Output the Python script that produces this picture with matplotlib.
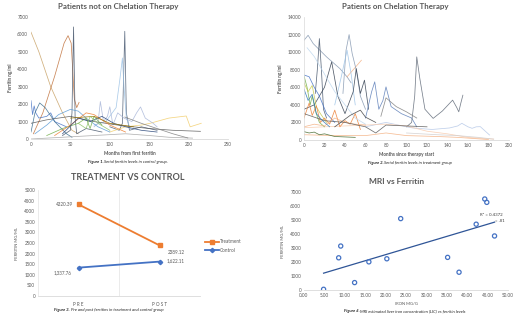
import numpy as np
import matplotlib.pyplot as plt

plt.rcParams['font.family'] = ['Lato', 'DejaVu Sans']

W, H = 520, 316

# ---- panel 1: patients not on chelation (x months, y ferritin) ----
ctrl_lines = [
    ('#C8A165', [0, 10, 25, 40, 52, 60], [6130, 5000, 3000, 1500, 500, 300]),
    ('#C0703A', [3, 15, 30, 42, 47, 51, 55, 58, 61], [300, 1500, 3600, 5500, 5930, 5500, 2300, 1800, 2100]),
    ('#44546A', [40, 50, 52, 54, 56, 58, 70, 90], [200, 500, 1500, 6430, 1200, 300, 600, 400]),
    ('#4A5B73', [100, 112, 116, 119, 121, 125, 140, 160], [700, 500, 900, 6180, 1500, 500, 700, 500]),
    ('#9DC3E6', [80, 95, 108, 113, 116, 118, 121, 126], [800, 1000, 1800, 3500, 4650, 3000, 1200, 600]),
    ('#F2CE6B', [100, 120, 140, 151, 175, 197, 202, 216], [400, 700, 800, 900, 1200, 1320, 700, 900]),
    ('#A9B7D9', [80, 85, 88, 92, 97, 100, 104, 110, 118, 128, 134, 139, 145, 155, 160],
     [700, 900, 2150, 1000, 1300, 1850, 800, 1500, 1200, 1000, 1500, 1840, 1200, 900, 700]),
    ('#4472C4', [0, 2, 4, 6, 10, 20, 25, 30, 45], [2200, 1400, 1900, 1500, 1200, 1300, 1500, 1000, 700]),
    ('#3B6E8F', [0, 5, 11, 18, 30, 45, 52], [400, 1500, 2070, 1800, 1000, 300, 100]),
    ('#5B9BD5', [5, 20, 35, 50, 60, 70, 85, 100], [300, 800, 1400, 1700, 1600, 1200, 700, 400]),
    ('#595959', [0, 20, 50, 80, 110, 150, 180, 215], [900, 1100, 1300, 1000, 800, 600, 500, 440]),
    ('#A5A5A5', [0, 40, 80, 120, 150, 175, 205], [0, 100, 200, 300, 200, 100, 50]),
    ('#70AD47', [20, 40, 60, 70, 75, 80, 90], [200, 600, 900, 1200, 600, 1300, 800]),
    ('#ED7D31', [30, 50, 70, 80, 100, 120], [200, 800, 1500, 1400, 800, 400]),
    ('#264478', [40, 60, 75, 90, 105, 120, 140, 160], [300, 1200, 1000, 1300, 900, 700, 500, 400]),
    ('#997300', [50, 80, 100, 130], [1200, 1300, 900, 700]),
    ('#7F7F7F', [119, 140, 160, 180, 199], [1260, 900, 600, 300, 60]),
    ('#8CC168', [60, 70, 75, 85, 100], [900, 600, 1300, 900, 500]),
]

# ---- panel 2: patients on chelation ----
treat_lines = [
    ('#8497B0', [0, 4, 9, 22, 35, 42, 46], [11350, 11920, 10970, 9460, 8130, 7190, 6500]),
    ('#F4B183', [42, 49, 56], [7190, 8130, 9080]),
    ('#44546A', [11, 13, 15, 17, 19, 22], [5300, 8000, 11540, 8000, 3500, 2500]),
    ('#8497B0', [38, 41, 44, 47, 51, 55, 60], [5300, 10200, 12000, 9840, 7950, 5000, 3500]),
    ('#9DC3E6', [30, 36, 42, 46, 50], [4000, 7000, 10220, 7500, 4000]),
    ('#333F50', [0, 10, 20, 27, 33, 40, 48, 51, 55, 59, 63], [3500, 4000, 6000, 8890, 5000, 3000, 5500, 8130, 5300, 6810, 3500]),
    ('#5B7DB8', [60, 66, 69, 73, 77, 80, 85, 95, 105, 110], [2500, 5500, 6620, 3500, 4500, 6050, 3800, 3000, 2500, 1500]),
    ('#606A78', [100, 105, 108, 110, 113, 118, 126, 135, 145, 149, 151, 153, 155],
     [1500, 2000, 5000, 9460, 7000, 3500, 2460, 3300, 4540, 3700, 3210, 4200, 5100]),
    ('#B4C7E7', [60, 80, 100, 106, 125, 142, 150, 154, 160, 164, 168, 172, 181],
     [1500, 2000, 1500, 1370, 1200, 1370, 1600, 1900, 1500, 1330, 1500, 1520, 570]),
    ('#F8CBAD', [0, 20, 40, 60, 80, 100, 120, 140, 160, 185], [1400, 1500, 1600, 1700, 1800, 1600, 1000, 700, 300, 100]),
    ('#F4B183', [0, 30, 60, 80, 100, 130, 150, 180], [600, 500, 500, 800, 500, 400, 300, 50]),
    ('#43682B', [0, 5, 10, 15, 20, 30, 40, 50], [950, 800, 900, 600, 700, 400, 350, 300]),
    ('#70AD47', [0, 3, 6, 8, 12, 15, 20], [7300, 6000, 4000, 5000, 3000, 2000, 1500]),
    ('#C5C84A', [0, 4, 8, 12, 16, 22], [6500, 5500, 6200, 3800, 3000, 2000]),
    ('#4472C4', [0, 5, 10, 15, 22, 30], [7400, 7200, 6000, 5000, 3000, 2000]),
    ('#ED7D31', [0, 5, 8, 12, 16, 20, 25, 30, 35, 40, 45, 50, 55],
     [2500, 4200, 2800, 3900, 2000, 2500, 1800, 3400, 1500, 2200, 1800, 3000, 1200]),
    ('#F4B183', [0, 10, 20, 30, 40, 50, 60], [1500, 1800, 1600, 2500, 2000, 1800, 1700]),
    ('#BDD7EE', [3, 10, 20, 30, 40, 50, 60], [10500, 9500, 7500, 5500, 4000, 2500, 1800]),
    ('#595959', [0, 20, 40, 60, 70, 80, 100, 120], [3000, 2200, 2000, 1500, 800, 1700, 1600, 1500]),
    ('#3F3F3F', [30, 45, 55, 60, 70], [1500, 2800, 3400, 2600, 2000]),
    ('#7F7F7F', [75, 80, 90, 100, 110], [2700, 4800, 3800, 3200, 2500]),
    ('#D0CECE', [100, 130, 150, 170, 185], [800, 600, 500, 300, 100]),
    ('#2E75B6', [0, 4, 8, 12, 18, 25], [5800, 4500, 5200, 3000, 2200, 1500]),
]

# ---- panel 3: treatment vs control ----
periods = ['PRE', 'POST']
treatment = [4320.39, 2389.12]
control = [1337.76, 1622.11]
treatment_labels = ['4320.39', '2389.12']
control_labels = ['1,337.76', '1,622.11']

# ---- panel 4: MRI vs ferritin ----
iron = [4.8, 8.5, 9.0, 12.4, 15.9, 20.3, 23.7, 35.2, 38.0, 42.2, 44.3, 44.8, 46.7]
ferritin = [50, 2300, 3140, 530, 2010, 2230, 5100, 2330, 1270, 4700, 6500, 6260, 3860]
r2_text = 'R² = 0.4372'

TICK = '#595959'


def box(left, top, right, bottom):
    return [left / W, 1 - bottom / H, (right - left) / W, (bottom - top) / H]


def excel_axes(ax, left_spine=False):
    for s in ['top', 'right', 'left']:
        ax.spines[s].set_visible(False)
    if left_spine:
        ax.spines['left'].set_visible(True)
        ax.spines['left'].set_color('#D9D9D9')
        ax.spines['left'].set_linewidth(0.5)
    ax.spines['bottom'].set_color('#D9D9D9')
    ax.spines['bottom'].set_linewidth(0.6)
    ax.tick_params(length=0, labelsize=3.3, colors=TICK, pad=2)


def caption(fig, xsplit, y, prefix, rest):
    fig.text(xsplit / W, 1 - y / H, prefix + ' ', ha='right', va='center',
             fontsize=3.1, fontstyle='italic', fontweight='bold', color='#262626')
    fig.text(xsplit / W, 1 - y / H, rest, ha='left', va='center',
             fontsize=3.1, fontstyle='italic', color='#262626')


fig = plt.figure(figsize=(W / 100, H / 100), dpi=100)

# panel 1
ax1 = fig.add_axes(box(31, 17, 228, 139))
for c, xs, ys in ctrl_lines:
    ax1.plot(xs, ys, color=c, lw=0.55, alpha=0.85)
ax1.set_xlim(0, 250)
ax1.set_ylim(0, 7000)
ax1.set_xticks(range(0, 251, 50))
ax1.set_yticks(range(0, 7001, 1000))
excel_axes(ax1)
ax1.set_xlabel('Months from first ferritin', fontsize=3.3, color=TICK, fontweight='bold', labelpad=3)
ax1.set_ylabel('Ferritin ng/ml', fontsize=3.3, color=TICK, fontweight='bold', labelpad=3)
fig.text(118 / W, 1 - 6 / H, 'Patients not on Chelation Therapy', ha='center', va='center',
         fontsize=5.7, fontweight='bold', color='#595959')
caption(fig, 104, 162, 'Figure 1.', 'Serial ferritin levels in control group.')

# panel 2
ax2 = fig.add_axes(box(304, 17, 509, 140))
for c, xs, ys in treat_lines:
    ax2.plot(xs, ys, color=c, lw=0.55, alpha=0.85)
ax2.set_xlim(0, 200)
ax2.set_ylim(0, 14000)
ax2.set_xticks(range(0, 201, 20))
ax2.set_yticks(range(0, 14001, 2000))
excel_axes(ax2, left_spine=True)
ax2.set_xlabel('Months since therapy start', fontsize=3.3, color=TICK, fontweight='bold', labelpad=3)
ax2.set_ylabel('Ferritin ng/ml', fontsize=3.3, color=TICK, fontweight='bold', labelpad=3)
fig.text(395 / W, 1 - 6 / H, 'Patients on Chelation Therapy', ha='center', va='center',
         fontsize=5.7, fontweight='bold', color='#595959')
caption(fig, 384, 163, 'Figure 2.', 'Serial ferritin levels in treatment group')

# panel 3
ax3 = fig.add_axes(box(38, 190, 200, 296))
xpos = np.arange(len(periods))
l_t, = ax3.plot(xpos, treatment, color='#ED7D31', lw=1.3, marker='s', ms=2.8, label='Treatment')
l_c, = ax3.plot(xpos, control, color='#4472C4', lw=1.3, marker='D', ms=2.2, label='Control')
ax3.set_xlim(-0.5, 1.5)
ax3.set_ylim(0, 5000)
ax3.set_yticks(range(0, 5001, 500))
ax3.set_xticks(xpos)
ax3.set_xticklabels([' '.join(p) for p in periods])
for xv in [-0.5, 0.5, 1.5]:
    ax3.axvline(xv, color='#E3E3E3', lw=0.5, zorder=0)
excel_axes(ax3)
ax3.tick_params(axis='x', pad=4)
ax3.set_ylabel('FERRITIN MG/ML', fontsize=3.0, color=TICK, labelpad=4)
ax3.annotate(treatment_labels[0], (xpos[0], treatment[0]), xytext=(-4, 0), textcoords='offset points',
             ha='right', va='center', fontsize=3.3, color=TICK)
ax3.annotate(treatment_labels[1], (xpos[1], treatment[1]), xytext=(6, -5), textcoords='offset points',
             ha='left', va='center', fontsize=3.3, color=TICK)
ax3.annotate(control_labels[0], (xpos[0], control[0]), xytext=(-5, -4), textcoords='offset points',
             ha='right', va='center', fontsize=3.3, color=TICK)
ax3.annotate(control_labels[1], (xpos[1], control[1]), xytext=(5, 1), textcoords='offset points',
             ha='left', va='center', fontsize=3.3, color=TICK)
fig.legend(handles=[l_t, l_c], loc='center left', bbox_to_anchor=(203 / W, 1 - 246 / H),
           frameon=False, fontsize=3.3, labelcolor=TICK, handlelength=3, handletextpad=0.3,
           labelspacing=0.8, borderaxespad=0)
fig.text(128 / W, 1 - 177 / H, 'TREATMENT VS CONTROL', ha='center', va='center',
         fontsize=6.5, fontweight='bold', color='#595959')
caption(fig, 71, 310, 'Figure 3.', 'Pre and post ferritins in treatment and control group')

# panel 4
ax4 = fig.add_axes(box(304, 192, 508, 290))
ax4.scatter(iron, ferritin, s=9, facecolors='none', edgecolors='#4472C4', linewidths=0.9, zorder=3)
slope, icpt = np.polyfit(iron, ferritin, 1)
xt = np.array([min(iron), max(iron)])
ax4.plot(xt, slope * xt + icpt, color='#2F5597', lw=0.9)
ax4.set_xlim(0, 50)
ax4.set_ylim(0, 7000)
ax4.set_xticks(np.arange(0, 50.1, 5))
ax4.set_xticklabels(['%.2f' % v for v in np.arange(0, 50.1, 5)])
ax4.set_yticks(range(0, 7001, 1000))
excel_axes(ax4)
ax4.set_xlabel('IRON MG/G', fontsize=3.0, color=TICK, labelpad=3)
ax4.set_ylabel('FERRITIN MG/ML', fontsize=3.0, color=TICK, labelpad=4)
fig.text(480 / W, 1 - 215 / H, r2_text, ha='left', va='center', fontsize=3.2, color='#404040')
fig.text(495 / W, 1 - 221 / H, '= .81', ha='left', va='center', fontsize=3.2, color='#404040')
fig.text(397 / W, 1 - 181 / H, 'MRI vs Ferritin', ha='center', va='center',
         fontsize=6.0, fontweight='bold', color='#595959')
caption(fig, 360, 311, 'Figure 4.', 'MRI estimated liver iron concentration (LIC) vs ferritin levels')

fig.savefig('out.png', dpi=100, facecolor='white')
